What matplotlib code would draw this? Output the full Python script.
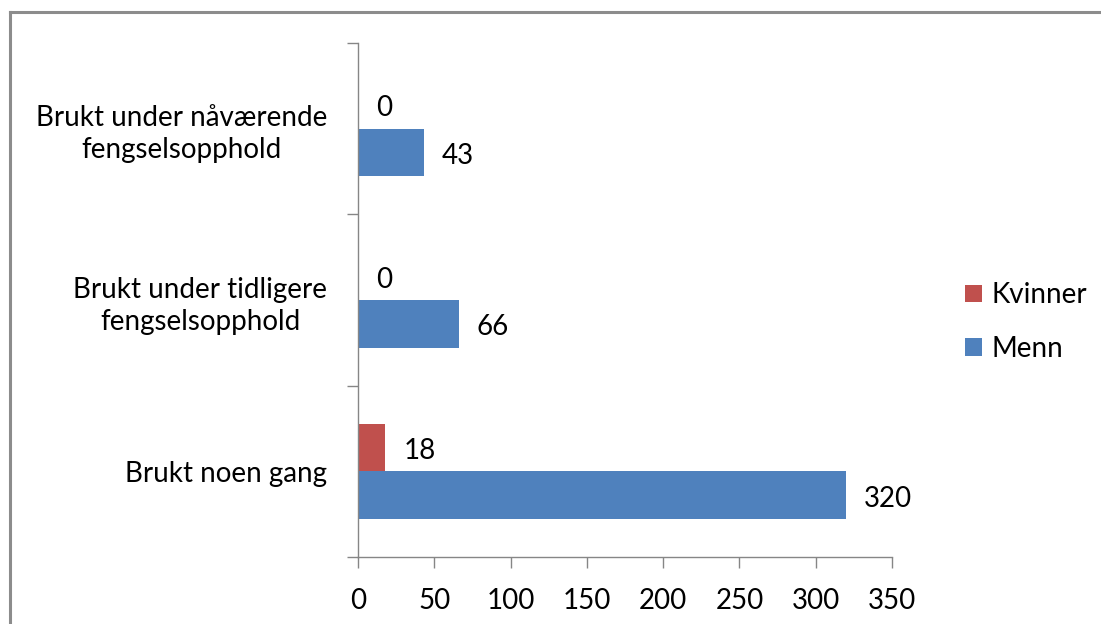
import matplotlib.pyplot as plt
from matplotlib.lines import Line2D

categories = ['Brukt noen gang',
              'Brukt under tidligere\nfengselsopphold',
              'Brukt under nåværende\nfengselsopphold']
kvinner = [18, 0, 0]
menn = [320, 66, 43]
series_names = ['Kvinner', 'Menn']
colors = ['#C0504D', '#4F81BD']
xticks = [0, 50, 100, 150, 200, 250, 300, 350]

plt.rcParams['font.family'] = ['Lato', 'DejaVu Sans']
axis_grey = '#868686'
fs = 20

fig = plt.figure(figsize=(11.01, 6.24), dpi=100)
ax = fig.add_axes([358 / 1101, 1 - 557 / 624, 534 / 1101, 514 / 624])

h = 0.278
y = range(len(categories))
bars_k = ax.barh([i + h / 2 for i in y], kvinner, height=h, color=colors[0], label=series_names[0])
bars_m = ax.barh([i - h / 2 for i in y], menn, height=h, color=colors[1], label=series_names[1])

# value labels to the right of every bar
for bars in (bars_k, bars_m):
    for bar in bars:
        w = bar.get_width()
        ax.annotate(f'{w:g}', (w, bar.get_y() + bar.get_height() / 2),
                    xytext=(13, -2.5), textcoords='offset points',
                    ha='left', va='center', fontsize=fs, color='#000000')

ax.set_xlim(0, 350)
ax.set_ylim(-0.5, len(categories) - 0.5)
ax.set_xticks(xticks)
ax.set_xticklabels([str(t) for t in xticks])

# category boundaries carry the tick marks, labels sit at the centres
ax.set_yticks([i - 0.5 for i in range(len(categories) + 1)])
ax.set_yticklabels([])
ax.set_yticks(list(y), minor=True)
ax.set_yticklabels(categories, minor=True, multialignment='center', linespacing=1.3)
ax.tick_params(axis='y', which='major', length=8, width=1, color=axis_grey)
ax.tick_params(axis='y', which='minor', length=0, pad=22, labelsize=fs)
ax.tick_params(axis='x', length=8, width=1, color=axis_grey, pad=14, labelsize=fs)

for s in ('top', 'right'):
    ax.spines[s].set_visible(False)
for s in ('left', 'bottom'):
    ax.spines[s].set_color(axis_grey)
    ax.spines[s].set_linewidth(1)

ax.legend(loc='center left', bbox_to_anchor=(940 / 1101, 1 - 322 / 624), bbox_transform=fig.transFigure,
          frameon=False, fontsize=fs, handlelength=0.6, handleheight=0.6,
          handletextpad=0.35, labelspacing=1.0)

# outer chart frame, left and top edges
x0, y0 = 10 / 1101, 1 - 12 / 624
for xs, ys in (([x0, x0], [-0.05, y0]), ([x0, 1.05], [y0, y0])):
    fig.lines.append(Line2D(xs, ys, transform=fig.transFigure,
                            color='#8C8C8C', linewidth=2.2))

fig.savefig('out.png', dpi=100)
